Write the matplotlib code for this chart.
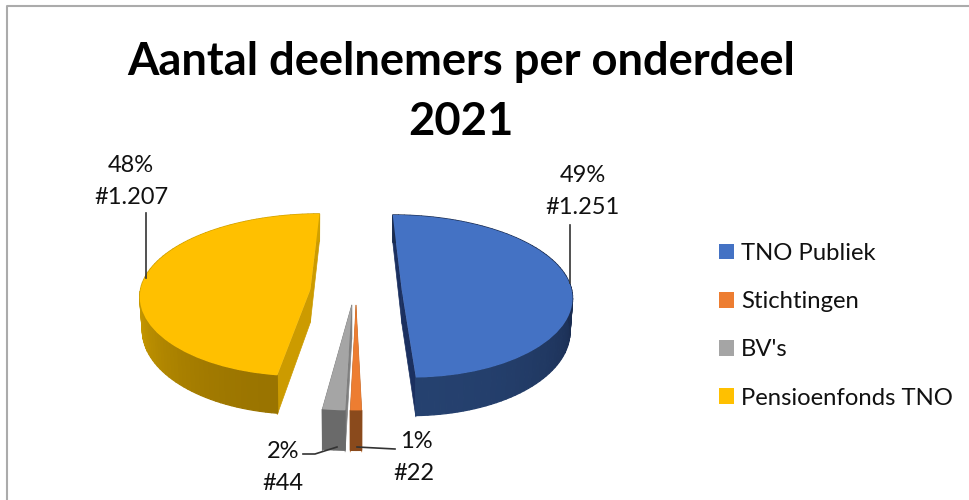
import numpy as np
import matplotlib
matplotlib.use("Agg")
import matplotlib.pyplot as plt
from matplotlib.transforms import Transform
from matplotlib.colors import to_rgb

categories = ["TNO Publiek", "Stichtingen", "BV's", "Pensioenfonds TNO"]
counts = [1251, 22, 44, 1207]
percent_labels = [49, 1, 2, 48]
top_colors = ["#4472C4", "#ED7D31", "#A5A5A5", "#FFC000"]

explode = [0.27, 0.17, 0.17, 0.27]
radii = [1.0, 1.17, 1.17, 1.0]
center_shift = [0.0, 0.0, -0.01, 0.0]
side_far = ["#1A2C50", "#843C0C", "#6E6E6E", "#D0A000"]
side_near = ["#25416F", "#8A4A1C", "#6A6A6A", "#997300"]
cut_colors = ["#1B3060", "#C0692A", "#7F7F7F", "#CC9B00"]

CX, CY, A, B, P, K1, K2, DEPTH, KD = 356, 291, 170, 81, 0.068, 0.2, 0.04, 33, 0.2


def project(px, py, center, z=0.0):
    px, py = np.asarray(px, float), np.asarray(py, float)
    v = -py
    x = CX + A * (center[0] * (1 + K1 * v) + (px - center[0]) * (1 + K2 * v))
    y = CY + B * v / (1 - P * v) + z * DEPTH * (1 + KD * v)
    return x, y


class Tilt(Transform):
    input_dims = output_dims = 2
    is_affine = False
    has_inverse = False

    def __init__(self, center):
        super().__init__()
        self.center = center

    def transform_non_affine(self, values):
        values = np.asarray(values, float)
        x, y = project(values[:, 0], values[:, 1], self.center)
        return np.column_stack([x, y])


plt.rcParams["font.family"] = ["Lato", "DejaVu Sans"]
fig = plt.figure(figsize=(9.7, 5.0), dpi=100)
ax = fig.add_axes([0, 0, 1, 1])

wedges, _ = ax.pie(counts, colors=top_colors, explode=explode, startangle=90,
                   counterclock=False, radius=1.0)
ax.set_aspect("auto")
ax.set_xlim(0, 970)
ax.set_ylim(500, 0)
ax.axis("off")

for i, w in enumerate(wedges):
    w.set_radius(radii[i])
    w.set_center((w.center[0] + center_shift[i], w.center[1]))
    cx0, cy0 = w.center
    c = (cx0, cy0)
    r = w.r
    ths = np.radians(np.linspace(w.theta1, w.theta2, max(3, int((w.theta2 - w.theta1) / 2))))
    # cut faces
    for th in (ths[0], ths[-1]):
        ex, ey = cx0 + r * np.cos(th), cy0 + r * np.sin(th)
        x1, y1 = project([cx0, ex], [cy0, ey], c)
        x2, y2 = project([ex, cx0], [ey, cy0], c, 1.0)
        ax.fill(np.r_[x1, x2], np.r_[y1, y2], color=cut_colors[i], lw=0.5, zorder=2)
    # outer rim
    c0, c1 = np.array(to_rgb(side_far[i])), np.array(to_rgb(side_near[i]))
    for a, b in zip(ths[:-1], ths[1:]):
        xa, ya = cx0 + r * np.cos([a, b]), cy0 + r * np.sin([a, b])
        xb, yb = cx0 + 0.985 * r * np.cos([b, a]), cy0 + 0.985 * r * np.sin([b, a])
        x1, y1 = project(xa, ya, c)
        x2, y2 = project(xb, yb, c, 1.0)
        t = np.clip(-np.sin((a + b) / 2), 0, 1)
        ax.fill(np.r_[x1, x2], np.r_[y1, y2], color=c0 + (c1 - c0) * t, lw=0.9, zorder=3)
    w.set_transform(Tilt(c) + ax.transData)
    w.set_zorder(4)
    w.set_edgecolor("none")

# title
ax.text(461, 75, "Aantal deelnemers per onderdeel", fontsize=32.6, fontweight="bold",
        ha="center", va="baseline", color="black")
ax.text(461, 135, "2021", fontsize=32.6, fontweight="bold", ha="center", va="baseline", color="black")

# data labels
fmt = [f"#{c:,}".replace(",", ".") for c in counts]
label_pos = [((583, 176), (583, 208)), ((416, 441), (414, 473)),
             ((283, 452), (283, 483)), ((131, 165), (131, 197))]
for p, f, (p1, p2) in zip(percent_labels, fmt, label_pos):
    ax.text(*p1, f"{p}%", fontsize=17, ha="center", va="center", color="#111111")
    ax.text(*p2, f, fontsize=17, ha="center", va="center", color="#111111")

# leader lines
for xs, ys in [((570, 570), (225, 283)), ((357, 395), (447, 449)),
               ((303, 315, 337), (454, 454, 447)), ((146, 146), (213, 278))]:
    ax.plot(xs, ys, color="#333333", lw=1.2, zorder=5)

# legend
leg = ax.legend(wedges, categories, loc="upper left", bbox_to_anchor=(719 / 970, 1 - 243 / 500),
                frameon=False, fontsize=17.2, handlelength=0.63, handleheight=0.63,
                handletextpad=0.3, labelspacing=1.14, borderpad=0, borderaxespad=0,
                labelcolor="#111111")

# frame
ax.plot([7, 7, 970], [500, 6, 6], color="#ABABAB", lw=1.5, zorder=1)

fig.savefig("out.png", dpi=100)
